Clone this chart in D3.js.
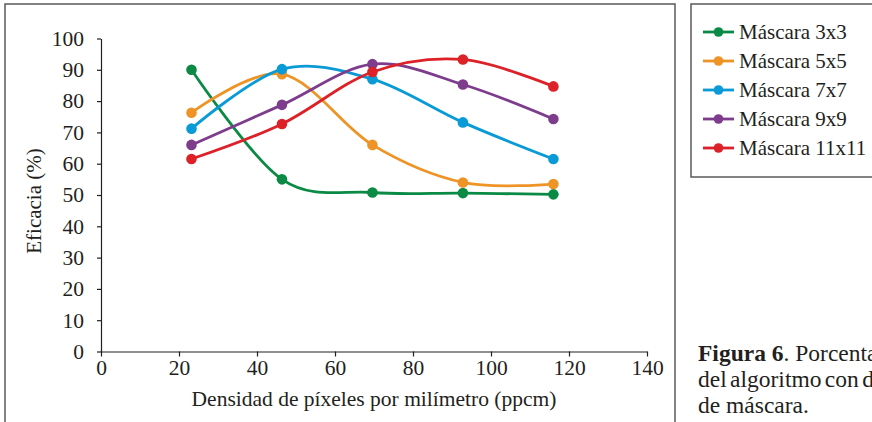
<!DOCTYPE html>
<html>
<head>
<meta charset="utf-8">
<script src="https://cdn.jsdelivr.net/npm/d3@7"></script>
<style>
  body { margin: 0; background: #fff; overflow: hidden; }
  text { font-family: "Liberation Serif", "Times New Roman", serif; fill: #231f20; }
</style>
</head>
<body>
<script>
const m = {
  width: 872,
  height: 422
}

// densidad (ppcm)
const densidad = [23.2, 46.4, 69.6, 92.8, 116];

const mascara3 = [90, 55, 50.8, 50.6, 50.2];
const mascara5 = [76.3, 88.6, 66, 54, 53.5];
const mascara7 = [71.2, 90.2, 87, 73.2, 61.5];
const mascara9 = [66, 78.8, 91.8, 85.3, 74.3];
const mascara11 = [61.5, 72.7, 89.3, 93.3, 84.7];

const seriesNames = ["Máscara 3x3", "Máscara 5x5", "Máscara 7x7", "Máscara 9x9", "Máscara 11x11"];
const colors = ["#0a8a44", "#ee9427", "#0a9ad5", "#7d3c8c", "#dc2128"];

const xTicks = [0, 20, 40, 60, 80, 100, 120, 140];
const yTicks = [0, 10, 20, 30, 40, 50, 60, 70, 80, 90, 100];

let series = [mascara3, mascara5, mascara7, mascara9, mascara11].map((vals, i) => ({
  name: seriesNames[i],
  color: colors[i],
  points: vals.map((v, j) => [densidad[j], v])
}));

let svg = d3.select("body")
  .append("svg")
  .attr("width", m.width)
  .attr("height", m.height);

// chart frame
svg.append("rect")
  .attr("x", 5).attr("y", 4)
  .attr("width", 670).attr("height", 430)
  .attr("fill", "none")
  .attr("stroke", "#5a5a5a")
  .attr("stroke-width", 1.5);

let x = d3.scaleLinear().domain([0, 140]).range([101, 647]);
let y = d3.scaleLinear().domain([0, 100]).range([351.5, 38.5]);

// axes
let xAxis = svg.append("g")
  .attr("transform", `translate(0,${y(0)})`)
  .call(d3.axisBottom(x).tickValues(xTicks).tickSize(5).tickSizeOuter(0).tickPadding(3));

let yAxis = svg.append("g")
  .attr("transform", `translate(${x(0)},0)`)
  .call(d3.axisLeft(y).tickValues(yTicks).tickSize(4).tickSizeOuter(0).tickPadding(13));

[xAxis, yAxis].forEach(a => {
  a.attr("font-family", "Liberation Serif");
  a.select(".domain").attr("stroke", "#231f20").attr("stroke-width", 1.2);
  a.selectAll(".tick line").attr("stroke", "#231f20").attr("stroke-width", 1.2);
  a.selectAll(".tick text")
    .attr("font-size", 21.5)
    .attr("fill", "#231f20");
});

svg.append("text")
  .attr("x", 374)
  .attr("y", 406)
  .attr("text-anchor", "middle")
  .attr("font-size", 21.5)
  .text("Densidad de píxeles por milímetro (ppcm)");

svg.append("text")
  .attr("transform", `translate(41,201) rotate(-90)`)
  .attr("text-anchor", "middle")
  .attr("font-size", 21)
  .text("Eficacia (%)");

// lines
let line = d3.line()
  .x(d => x(d[0]))
  .y(d => y(d[1]))
  .curve(d3.curveCatmullRom.alpha(0));

let plot = svg.append("g");

plot.selectAll("path")
  .data(series)
  .enter()
  .append("path")
  .attr("fill", "none")
  .attr("stroke", d => d.color)
  .attr("stroke-width", 2.8)
  .attr("d", d => line(d.points));

series.forEach(s => {
  plot.append("g").selectAll("circle")
    .data(s.points)
    .enter()
    .append("circle")
    .attr("cx", d => x(d[0]))
    .attr("cy", d => y(d[1]))
    .attr("r", 5.3)
    .attr("fill", s.color);
});

// legend
let legend = svg.append("g");
legend.append("rect")
  .attr("x", 691).attr("y", 4)
  .attr("width", 200).attr("height", 173)
  .attr("fill", "none")
  .attr("stroke", "#5a5a5a")
  .attr("stroke-width", 1.5);

let items = legend.selectAll("g.item")
  .data(series)
  .enter()
  .append("g")
  .attr("class", "item")
  .attr("transform", (d, i) => `translate(0,${32 + i * 29})`);

items.append("line")
  .attr("x1", 703).attr("x2", 734)
  .attr("stroke", d => d.color)
  .attr("stroke-width", 2.8);

items.append("circle")
  .attr("cx", 718.5)
  .attr("r", 4.8)
  .attr("fill", d => d.color);

items.append("text")
  .attr("x", 739)
  .attr("y", 7)
  .attr("font-size", 21)
  .text(d => d.name);

// caption (runs past the right edge, as in the source page)
let cap = svg.append("text")
  .attr("x", 698)
  .attr("font-size", 23.5);
let l1 = cap.append("tspan").attr("x", 698).attr("y", 361);
l1.append("tspan").attr("font-weight", "bold").text("Figura 6");
l1.append("tspan").text(". Porcentaje");
cap.append("tspan").attr("x", 698).attr("y", 387).attr("word-spacing", -2.5).text("del algoritmo con diferentes");
cap.append("tspan").attr("x", 698).attr("y", 413).text("de máscara.");
</script>
</body>
</html>
